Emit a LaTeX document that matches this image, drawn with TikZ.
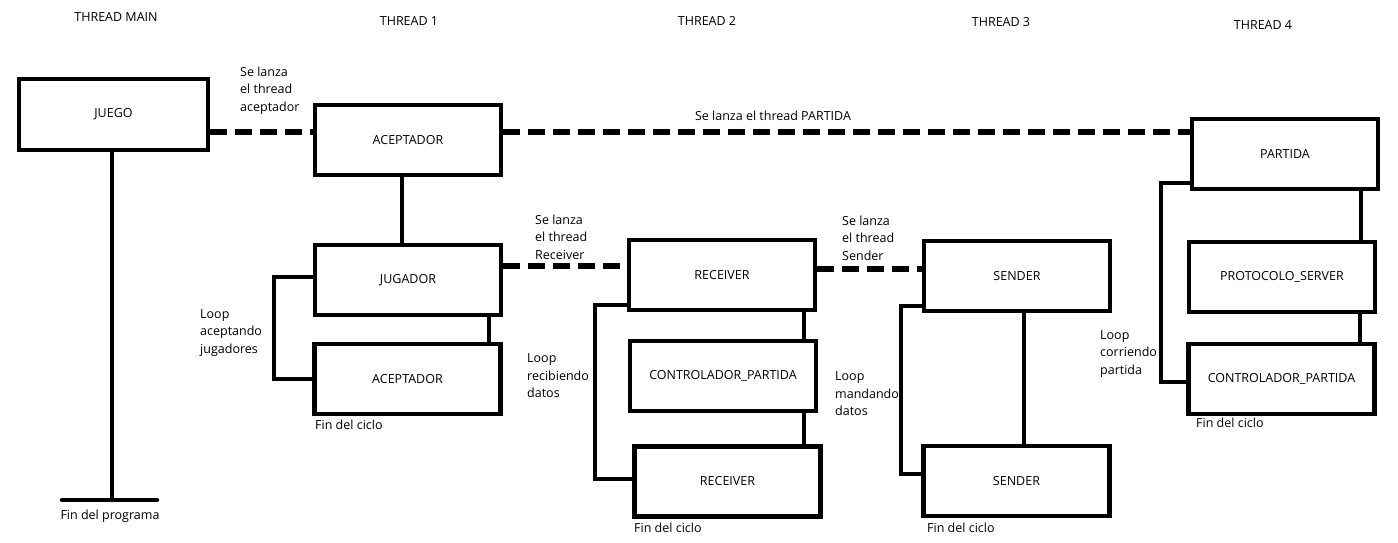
\documentclass[tikz,border=0pt]{standalone}
\usepackage{fontspec}
\setmainfont{Open Sans}
\usetikzlibrary{calc}
\tikzstyle{blk} = [draw, line width=4.5pt, minimum width=186pt, minimum height=70pt]
\tikzstyle{launch} = [line width=5.5pt, dash pattern=on 17pt off 8pt]
\tikzstyle{link} = [line width=4.5pt]
\tikzstyle{note} = [align=left, anchor=west, inner sep=0pt]

\begin{document}
\begin{tikzpicture}[x=1pt, y=-1pt, font=\fontsize{12.5}{17.5}\selectfont]
	\useasboundingbox (0,0) rectangle (1398,542);
	
	\node (hmain) at (116,17) {THREAD MAIN};
	\node (h1) at (409,21) {THREAD 1};
	\node (h2) at (707,21) {THREAD 2};
	\node (h3) at (1001,22) {THREAD 3};
	\node (h4) at (1263,25) {THREAD 4};
	
	\node[blk, minimum width=189pt, minimum height=71pt] (juego) at (113.5,114.5) {JUEGO};
	\node[blk] (acep) at (408,140) {ACEPTADOR};
	\node[blk] (jug) at (408,280) {JUGADOR};
	\node[blk] (acepb) at (407.5,379) {ACEPTADOR};
	\node[blk] (recv) at (722,275) {RECEIVER};
	\node[blk] (ctrl) at (723,376) {CONTROLADOR\_PARTIDA};
	\node[blk] (recvb) at (727.5,481.5) {RECEIVER};
	\node[blk] (send) at (1017,276) {SENDER};
	\node[blk] (sendb) at (1016.5,481) {SENDER};
	\node[blk] (part) at (1285,154) {PARTIDA};
	\node[blk] (proto) at (1282,277) {PROTOCOLO\_SERVER};
	\node[blk] (ctrlb) at (1281.5,379) {CONTROLADOR\_PARTIDA};
	
	\coordinate (fin) at (112,500);
	\draw[link] (juego.south -| fin) -- (fin);
	\draw[link, line cap=round] (62,500) -- (157,500);
	\node (lfin) at (110,516) {Fin del programa};
	
	\coordinate (la) at ([yshift=8pt]acep.west);
	\draw[launch] (juego.east |- la) -- (la);
	\coordinate (lp) at ([yshift=22pt]part.west);
	\draw[launch] (acep.east |- lp) -- (lp);
	\coordinate (lr) at ([yshift=9pt]recv.west);
	\draw[launch] (jug.east |- lr) -- (lr);
	\coordinate (ls) at ([yshift=7pt]send.west);
	\draw[launch] (recv.east |- ls) -- (ls);
	
	\node[note] (ta) at (240,90.5) {Se lanza\\el thread\\aceptador};
	\node (tp) at (773,116) {Se lanza el thread PARTIDA};
	\node[note] (tr) at (535,237) {Se lanza\\el thread\\Receiver};
	\node[note] (ts) at (842,238) {Se lanza\\el thread\\Sender};
	
	\draw[link] ([xshift=-6pt]acep.south) -- ([xshift=-6pt]acep.south |- jug.north);
	\draw[link] ([xshift=81pt]jug.south) -- ([xshift=81pt]jug.south |- acepb.north);
	\draw[link] ([yshift=3pt]jug.west) -- ++(-39,0) |- (acepb.west);
	\node[note] (t1) at (200,333) {Loop\\aceptando\\jugadores};
	\node[note] (f1) at (315,425) {Fin del ciclo};
	
	\draw[link] ([xshift=82pt]recv.south) -- ([xshift=82pt]recv.south |- ctrl.north);
	\draw[link] ([xshift=81pt]ctrl.south) -- ([xshift=81pt]ctrl.south |- recvb.north);
	\coordinate (cr) at ([yshift=2.5pt]recvb.west);
	\draw[link] ([yshift=-30pt]recv.west) -- ++(-32,0) |- (cr);
	\node[note] (t2) at (527,376) {Loop\\recibiendo\\datos};
	\node[note] (f2) at (634,528) {Fin del ciclo};
	
	\draw[link] ([xshift=7pt]send.south) -- ([xshift=7pt]send.south |- sendb.north);
	\coordinate (cs) at ([yshift=7pt]sendb.west);
	\draw[link] ([yshift=-30pt]send.west) -- ++(-21,0) |- (cs);
	\node[note] (t3) at (835,394) {Loop\\mandando\\datos};
	\node[note] (f3) at (927,528) {Fin del ciclo};
	
	\draw[link] ([xshift=76pt]part.south) -- ([xshift=76pt]part.south |- proto.north);
	\draw[link] ([xshift=78pt]proto.south) -- ([xshift=78pt]proto.south |- ctrlb.north);
	\coordinate (cp) at ([yshift=-3pt]ctrlb.west);
	\draw[link] ([yshift=-29pt]part.west) -- ++(-29,0) |- (cp);
	\node[note] (t4) at (1100,354) {Loop\\corriendo\\partida};
	\node[note] (f4) at (1196,423) {Fin del ciclo};
\end{tikzpicture}
\end{document}
